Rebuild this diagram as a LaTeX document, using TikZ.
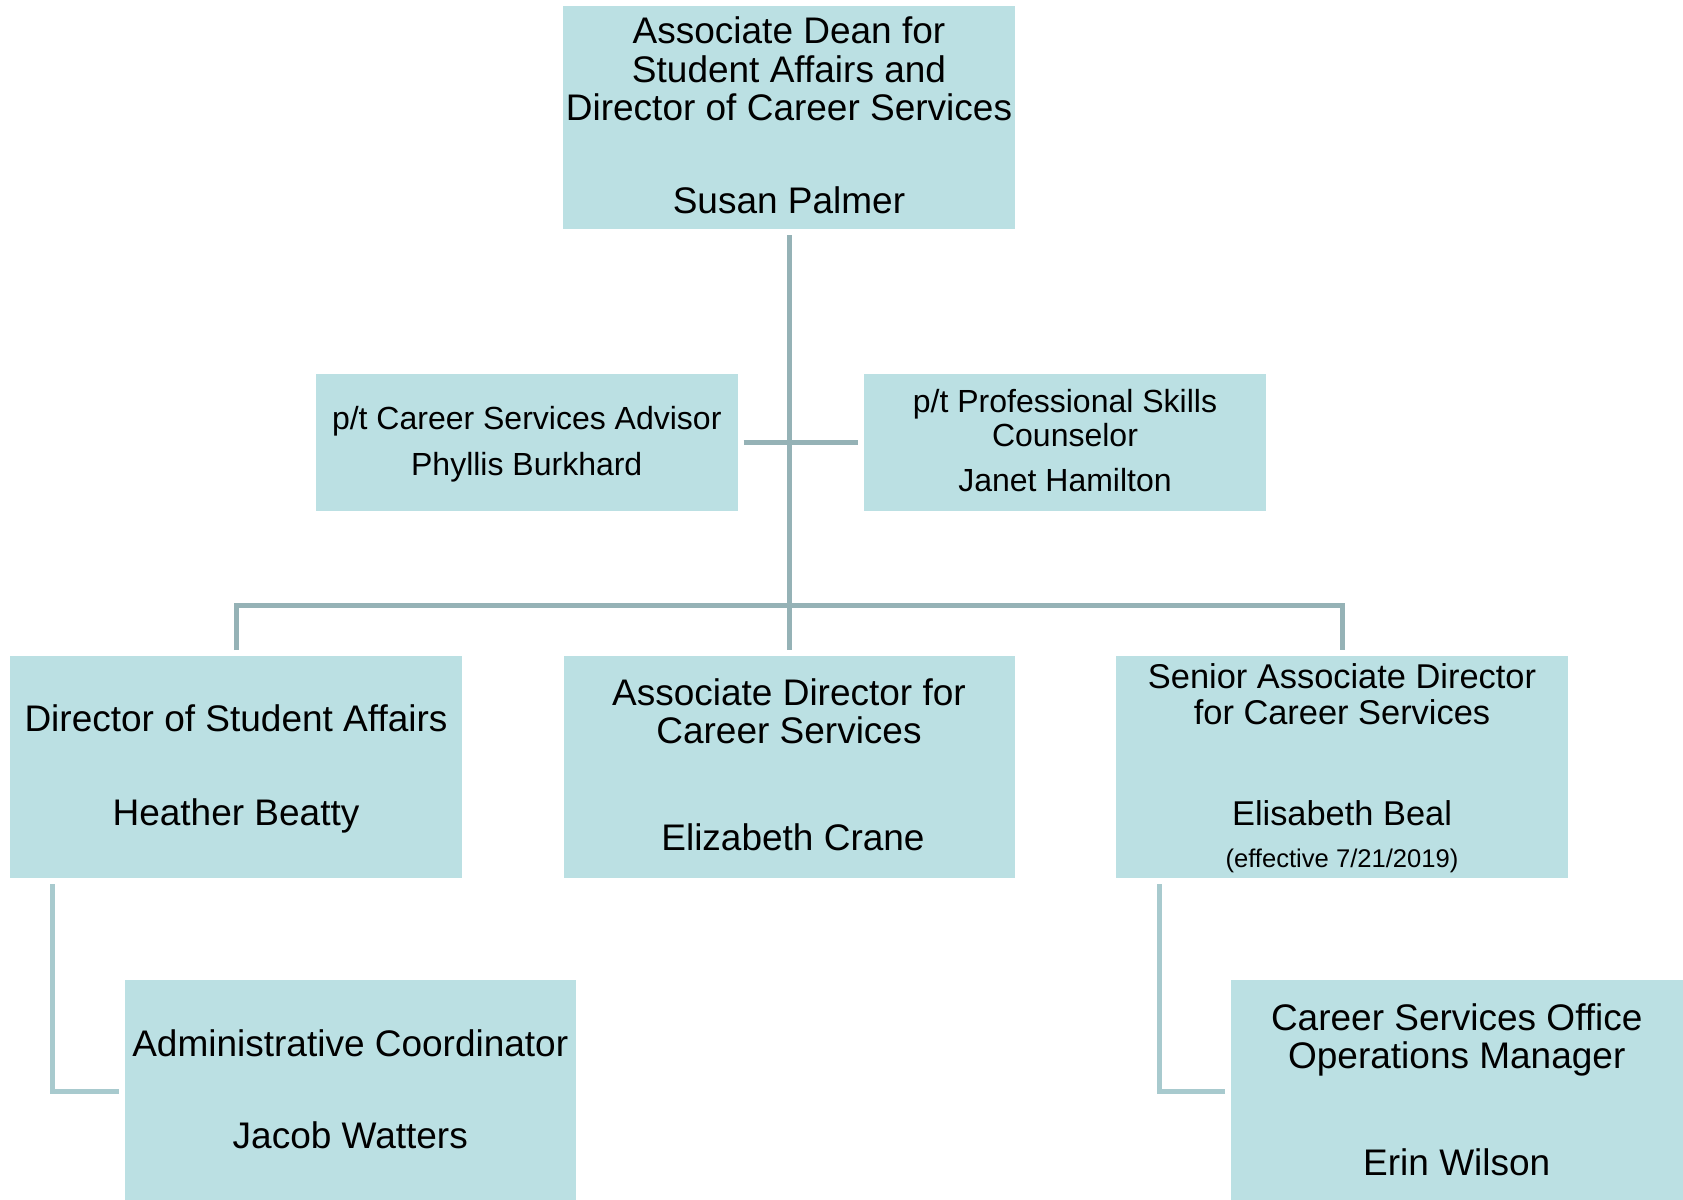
\documentclass[tikz,border=0pt]{standalone}
\usepackage{fontspec}
\setmainfont{Liberation Sans}
\definecolor{boxfill}{RGB}{187,224,227}
\definecolor{trunkline}{RGB}{149,178,182}
\definecolor{elbowline}{RGB}{168,202,206}
\newcommand\fsBig{\fontsize{37}{38}\selectfont}
\newcommand\fsMid{\fontsize{34.4}{36}\selectfont}
\newcommand\fsAsst{\fontsize{32}{34}\selectfont}
\newcommand\fsSmall{\fontsize{25.6}{27}\selectfont}
\tikzset{
  orgbox/.style={rectangle, fill=boxfill, draw=none, inner sep=0pt, outer sep=0pt},
  txt/.style={anchor=base, inner sep=0pt, outer sep=0pt, text=black},
  trunk/.style={draw=trunkline, line width=5pt},
  elbow/.style={draw=elbowline, line width=5pt},
}
\begin{document}
\begin{tikzpicture}[x=1pt,y=-1pt]
\useasboundingbox (0,0) rectangle (1683,1199);
\clip (0,0) rectangle (1683,1199);
% boxes
\node[orgbox, minimum width=452pt, minimum height=223pt] (top) at (789,117.5) {};
\node[orgbox, minimum width=421.5pt, minimum height=136.5pt] (asl) at (526.75,442.25) {};
\node[orgbox, minimum width=402pt, minimum height=136.5pt] (asr) at (1065,442.25) {};
\node[orgbox, minimum width=452pt, minimum height=222pt] (dsa) at (236,767) {};
\node[orgbox, minimum width=451pt, minimum height=222pt] (adc) at (789,767) {};
\node[orgbox, minimum width=452pt, minimum height=222pt] (sad) at (1342,767) {};
\node[orgbox, minimum width=451.5pt, minimum height=222pt] (adm) at (350.25,1091) {};
\node[orgbox, minimum width=452.5pt, minimum height=222pt] (ops) at (1456.75,1091) {};
% connectors
\draw[trunk, shorten <=6pt, shorten >=6pt] (top.south) -- (adc.north);
\draw[trunk] ([xshift=6pt]asl.east) -- ([xshift=-6pt]asr.west);
\draw[trunk, line join=miter] ([yshift=6pt]dsa.north) -- ([yshift=51pt]dsa.north) -- ([yshift=51pt]sad.north) -- ([yshift=6pt]sad.north);
\draw[elbow, line join=miter] ([xshift=42.5pt,yshift=-6pt]dsa.south west) |- ([xshift=-6pt]adm.west);
\draw[elbow, line join=miter] ([xshift=43pt,yshift=-6pt]sad.south west) |- ([xshift=-6pt]ops.west);
% texts
\node[txt, font=\fsBig] (top1) at (789,44) {Associate Dean for};
\node[txt, font=\fsBig] (top2) at (789,82.6) {Student Affairs and};
\node[txt, font=\fsBig] (top3) at (789,120.8) {Director of Career Services};
\node[txt, font=\fsBig] (top4) at (789,213.4) {Susan Palmer};
\node[txt, font=\fsAsst] (asl1) at (526.75,429.5) {p/t Career Services Advisor};
\node[txt, font=\fsAsst] (asl2) at (526.75,475) {Phyllis Burkhard};
\node[txt, font=\fsAsst] (asr1) at (1065,412) {p/t Professional Skills};
\node[txt, font=\fsAsst] (asr2) at (1065,446.5) {Counselor};
\node[txt, font=\fsAsst] (asr3) at (1065,491.5) {Janet Hamilton};
\node[txt, font=\fsBig] (dsa1) at (236,731.5) {Director of Student Affairs};
\node[txt, font=\fsBig] (dsa2) at (236,825) {Heather Beatty};
\node[txt, font=\fsBig] (adc1) at (789,705) {Associate Director for};
\node[txt, font=\fsBig] (adc2) at (789,743.5) {Career Services};
\node[txt, font=\fsBig] (adc3) at (793,850.5) {Elizabeth Crane};
\node[txt, font=\fsMid] (sad1) at (1342,688) {Senior Associate Director};
\node[txt, font=\fsMid] (sad2) at (1342,724) {for Career Services};
\node[txt, font=\fsMid] (sad3) at (1342,825) {Elisabeth Beal};
\node[txt, font=\fsSmall] (sad4) at (1342,867) {(effective 7/21/2019)};
\node[txt, font=\fsBig] (adm1) at (350.25,1056.5) {Administrative Coordinator};
\node[txt, font=\fsBig] (adm2) at (350.25,1148) {Jacob Watters};
\node[txt, font=\fsBig] (ops1) at (1456.75,1030) {Career Services Office};
\node[txt, font=\fsBig] (ops2) at (1456.75,1068.5) {Operations Manager};
\node[txt, font=\fsBig] (ops3) at (1456.75,1175) {Erin Wilson};
\end{tikzpicture}
\end{document}
